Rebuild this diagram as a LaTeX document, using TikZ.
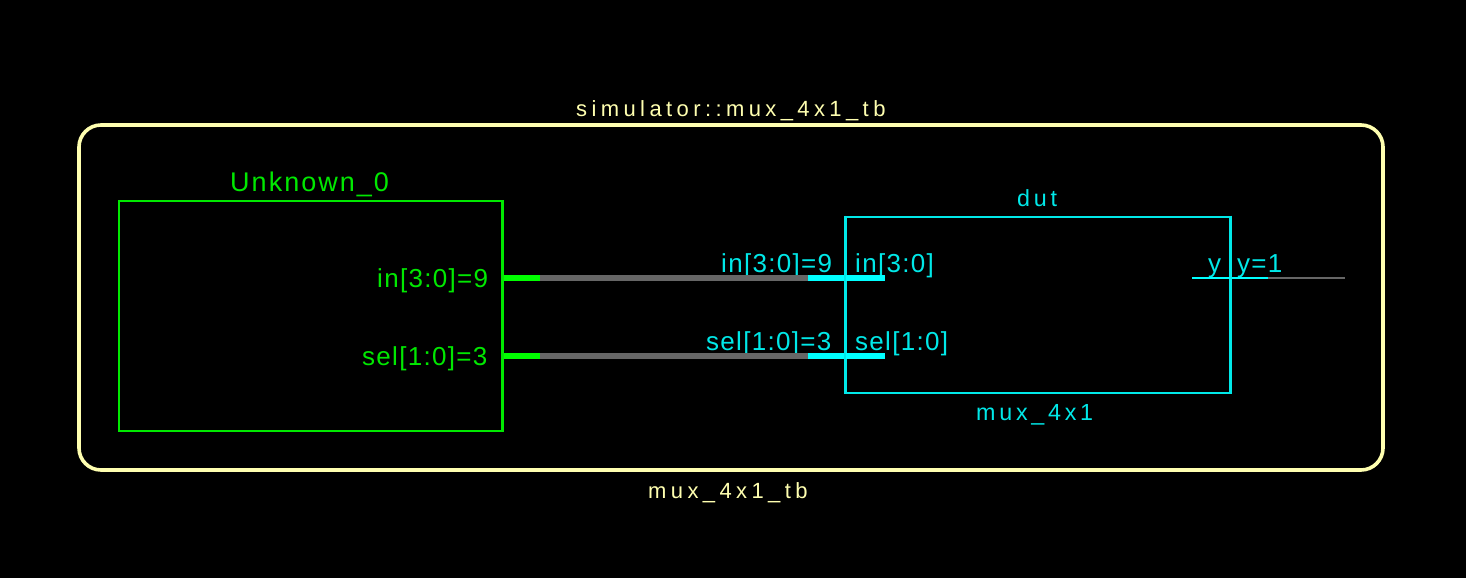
\documentclass[tikz,border=0pt]{standalone}
\usepackage{fontspec}
\newfontfamily\fLab[LetterSpace=5]{Liberation Sans}
\newfontfamily\fUnk[LetterSpace=7.5]{Liberation Sans}
\newfontfamily\fInst[LetterSpace=16]{Liberation Sans}
\newfontfamily\fTop[LetterSpace=20]{Liberation Sans}
\definecolor{bg}{RGB}{0,0,0}
\definecolor{grn}{RGB}{0,232,0}
\definecolor{grnw}{RGB}{0,255,0}
\definecolor{cyn}{RGB}{0,232,232}
\definecolor{cynw}{RGB}{0,255,255}
\definecolor{ylw}{RGB}{255,255,176}
\definecolor{wiregray}{RGB}{102,102,102}
\tikzset{
  lbl/.style={inner sep=0pt, anchor=base west, font=\fLab\fontsize{26}{30}\selectfont},
  unkname/.style={inner sep=0pt, anchor=base west, font=\fUnk\fontsize{27}{30}\selectfont},
  instname/.style={inner sep=0pt, anchor=base west, font=\fInst\fontsize{23.3}{28}\selectfont},
  topname/.style={inner sep=0pt, anchor=base west, font=\fTop\fontsize{22}{26}\selectfont},
  busw/.style={line width=6pt},
  thinw/.style={line width=2pt}
}
\begin{document}
\begin{tikzpicture}[x=1pt,y=-1pt]
\fill[bg] (0,0) rectangle (1466,578);
\useasboundingbox (0,0) rectangle (1466,578);
% outer testbench frame
\draw[ylw, line width=3.6pt, rounded corners=22pt] (79,125) rectangle (1383,470);
\node[topname, text=ylw] (ttl) at (576,116) {simulator::mux\_4x1\_tb};
\node[topname, text=ylw] (tbname) at (648,498) {mux\_4x1\_tb};
% Unknown_0 block
\node[draw=grn, line width=2pt, minimum width=383pt, minimum height=230pt, inner sep=0pt] (unk) at (310,316) {};
\node[unkname, text=grn] (unklbl) at (230,191) {Unknown\_0};
\node[lbl, text=grn] (uin) at (377,287) {in[3:0]=9};
\node[lbl, text=grn] (usel) at (362,365) {sel[1:0]=3};
% dut block
\node[draw=cyn, line width=2pt, minimum width=384pt, minimum height=176pt, inner sep=0pt] (dut) at (1038,304.5) {};
\node[instname, text=cyn] (dutlbl) at (1017,206.5) {dut};
\node[instname, text=cyn] (dutmod) at (976,420.5) {mux\_4x1};
\node[lbl, text=cyn] (din) at (721,272) {in[3:0]=9};
\node[lbl, text=cyn] (dinp) at (855,272) {in[3:0]};
\node[lbl, text=cyn] (dsel) at (706,350) {sel[1:0]=3};
\node[lbl, text=cyn] (dselp) at (855,350) {sel[1:0]};
\node[lbl, text=cyn] (dy) at (1208,272) {y};
\node[lbl, text=cyn] (dyv) at (1237,272) {y=1};
% pin coordinates
\coordinate (a0) at (502,278);
\coordinate (a1) at (540,278);
\coordinate (a2) at (808,278);
\coordinate (a3) at (885,278);
\coordinate (b0) at (502,355.5);
\coordinate (b1) at (540,355.5);
\coordinate (b2) at (808,355.5);
\coordinate (b3) at (885,355.5);
\coordinate (y0) at (1192,277.7);
\coordinate (y1) at (1268,277.7);
\coordinate (y2) at (1345,277.7);
% wires
\draw[busw, wiregray] (a1) -- (a2);
\draw[busw, wiregray] (b1) -- (b2);
\draw[busw, grnw] (a0) -- (a1);
\draw[busw, grnw] (b0) -- (b1);
\draw[busw, cynw] (a2) -- (a3);
\draw[busw, cynw] (b2) -- (b3);
\draw[thinw, wiregray] (y1) -- (y2);
\draw[thinw, cynw] (y0) -- (y1);
% redraw box edges on top of wires
\draw[grn, line width=2pt] (unk.north east) -- (unk.south east);
\draw[cyn, line width=2pt] (dut.north west) -- (dut.south west);
\draw[cyn, line width=2pt] (dut.north east) -- (dut.south east);
\end{tikzpicture}
\end{document}
